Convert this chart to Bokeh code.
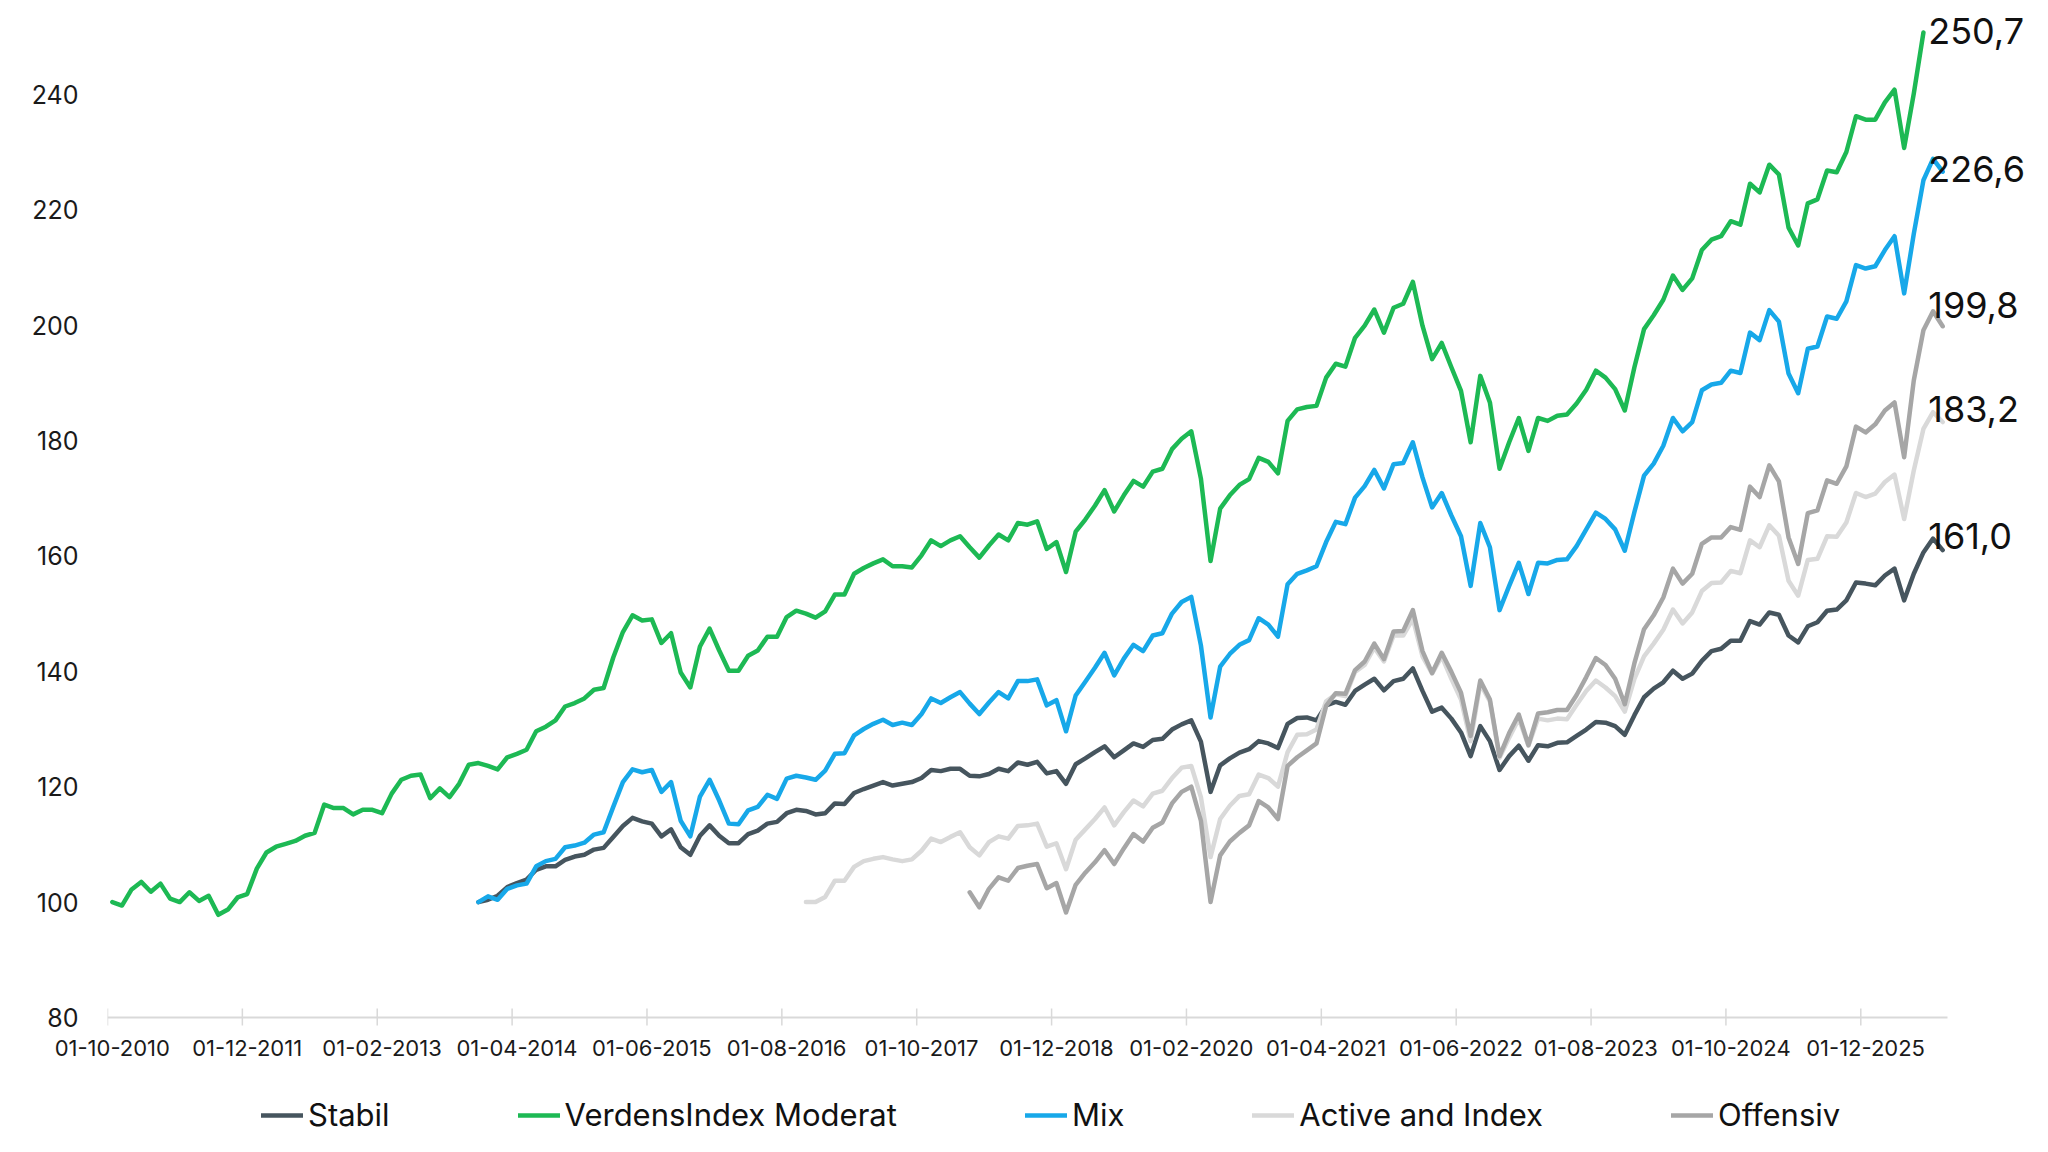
import pandas as pd
from bokeh.plotting import figure
from bokeh.layouts import column
from bokeh.models import Range1d, FixedTicker, Legend, LegendItem, Label
from bokeh.embed import file_html
from bokeh.resources import INLINE

# monthly categories of the chart, a tick label every 14 months
months = pd.date_range("2010-10-01", "2026-08-01", freq="MS")
tick_months = months[::14]

# index values, one per month from each series' start
verdensindex = [
    100.0, 99.4, 102.2, 103.5, 101.8, 103.2, 100.6, 100.0, 101.7, 100.2,
    101.1, 97.8, 98.7, 100.8, 101.4, 105.8, 108.6, 109.6, 110.1, 110.6,
    111.5, 112.0, 116.9, 116.3, 116.3, 115.2, 116.0, 116.0, 115.4, 118.8,
    121.2, 121.9, 122.1, 118.0,
    119.7, 118.2, 120.5, 123.8, 124.1, 123.6, 123.0, 125.1, 125.7, 126.4,
    129.6, 130.4, 131.5, 133.9, 134.5, 135.3, 136.8, 137.1, 142.4, 146.8,
    149.7, 148.8, 149.0, 144.9, 146.6, 139.8, 137.2, 144.3, 147.4, 143.6,
    140.1,
    140.1, 142.7, 143.6, 146.0, 146.0, 149.4, 150.5, 150.0, 149.3, 150.4,
    153.3, 153.3, 156.9, 157.9, 158.7, 159.4, 158.2, 158.2, 158.0, 160.1,
    162.7, 161.7, 162.7, 163.4, 161.5, 159.7, 161.8, 163.7, 162.7, 165.7,
    165.4,
    166.0, 161.2, 162.4, 157.2, 164.2, 166.3, 168.7, 171.4, 167.7, 170.5,
    173.0, 172.0, 174.6, 175.1, 178.5, 180.3, 181.6, 173.4, 159.1, 168.2,
    170.5, 172.3, 173.3, 177.0, 176.3, 174.3, 183.4, 185.4, 185.8, 186.0,
    190.9, 193.3, 192.8, 197.8, 199.9, 202.7, 198.7, 203.0, 203.7, 207.5,
    199.9, 194.1, 196.9, 192.7, 188.6, 179.7, 191.2, 186.6, 175.1, 179.7,
    183.9, 178.2, 183.9, 183.4, 184.3, 184.5, 186.4, 188.8, 192.1, 190.9,
    188.9, 185.2, 192.7, 199.3,
    201.7, 204.4, 208.6, 206.1, 208.1, 213.0, 214.8, 215.4, 218.0, 217.4,
    224.5, 223.0, 227.8, 226.1, 216.9, 213.8, 221.1, 221.8, 226.8, 226.5,
    230.0, 236.2, 235.6, 235.6, 238.6, 240.8, 230.7, 240.1, 250.7,
]

mix = [
    100.0, 101.0, 100.4, 102.3, 102.9, 103.2, 106.2, 107.1, 107.5, 109.5,
    109.8, 110.3, 111.7, 112.1, 116.5, 120.8, 123.0, 122.5, 122.9, 119.1,
    120.8, 114.1, 111.4, 118.3, 121.2, 117.6, 113.6,
    113.5, 115.9, 116.5, 118.6, 117.9, 121.4, 121.9, 121.6, 121.2, 122.8,
    125.7, 125.8, 128.9, 130.0, 130.9, 131.6, 130.7, 131.1, 130.7, 132.6,
    135.3, 134.5, 135.5, 136.4, 134.4, 132.6, 134.6, 136.4, 135.3, 138.3,
    138.3,
    138.6, 134.1, 135.0, 129.6, 135.8, 138.2, 140.6, 143.2, 139.3, 142.2,
    144.6, 143.5, 146.2, 146.6, 150.0, 152.0, 152.9, 144.5, 132.0, 140.8,
    143.0, 144.6, 145.4, 149.2, 148.1, 146.0, 155.1, 156.9, 157.5, 158.2,
    162.4, 165.9,
    165.5, 170.1, 172.1, 174.9, 171.7, 175.9, 176.1, 179.7, 173.6, 168.4,
    170.9, 167.0, 163.4, 154.8, 165.7, 161.5, 150.6, 154.8, 158.8, 153.4,
    158.8, 158.7, 159.3, 159.4, 161.7, 164.6, 167.5, 166.4, 164.6, 160.9,
    167.6, 173.9,
    176.0, 179.1, 183.9, 181.6, 183.2, 188.7, 189.7, 190.0, 192.1, 191.7,
    198.7, 197.4, 202.6, 200.6, 191.6, 188.2, 195.9, 196.3, 201.5, 201.1,
    204.1, 210.4, 209.8, 210.2, 213.0, 215.4, 205.5, 215.8, 225.1, 228.8,
    226.6,
]

stabil = [
    100.0, 100.4, 101.1, 102.6, 103.3, 103.9, 105.6, 106.2, 106.2, 107.3,
    107.9, 108.2, 109.1, 109.4, 111.3, 113.2, 114.6, 114.0, 113.6, 111.4,
    112.6, 109.5, 108.2, 111.5, 113.3, 111.5, 110.2,
    110.2, 111.8, 112.4, 113.6, 113.9, 115.4, 116.0, 115.8, 115.2, 115.4,
    117.1, 117.0, 118.9, 119.6, 120.2, 120.8, 120.2, 120.5, 120.8, 121.5,
    122.9, 122.7, 123.1, 123.1, 121.9, 121.8, 122.2, 123.1, 122.7, 124.2,
    123.8,
    124.3, 122.3, 122.7, 120.5, 123.9, 124.9, 126.0, 127.0, 125.1, 126.3,
    127.5, 126.9, 128.1, 128.3, 129.9, 130.8, 131.5, 127.8, 119.1, 123.7,
    124.9, 125.9, 126.5, 127.9, 127.5, 126.7, 130.9, 131.9, 132.0, 131.5,
    134.1, 134.7,
    134.2, 136.6, 137.7, 138.7, 136.7, 138.3, 138.7, 140.5, 136.6, 133.0,
    133.7, 131.8, 129.4, 125.3, 130.5, 127.9, 122.9, 125.3, 127.1, 124.5,
    127.2, 127.0, 127.6, 127.7, 128.8, 129.9, 131.2, 131.1, 130.5, 129.0,
    132.4, 135.5,
    137.0, 138.1, 140.1, 138.7, 139.6, 141.8, 143.5, 143.9, 145.3, 145.3,
    148.7, 148.1, 150.2, 149.8, 146.2, 145.0, 147.8, 148.5, 150.5, 150.7,
    152.3, 155.4, 155.2, 154.9, 156.6, 157.8, 152.3, 156.9, 160.6, 163.0,
    161.0,
]

active_index = [
    100.0, 100.0, 100.9, 103.7, 103.7, 106.1, 107.1, 107.5, 107.8, 107.4,
    107.1, 107.4, 108.9, 111.0, 110.4, 111.3, 112.1, 109.5, 108.1, 110.4,
    111.4, 111.0, 113.2, 113.3,
    113.6, 109.6, 110.2, 105.7, 110.8, 112.6, 114.4, 116.4, 113.3, 115.6,
    117.6, 116.6, 118.8, 119.3, 121.5, 123.3, 123.6, 118.2, 107.8, 114.4,
    116.7, 118.4, 118.7, 122.1, 121.5, 120.0, 126.0, 129.0, 129.1, 129.9,
    134.8, 136.0,
    135.7, 139.9, 141.1, 144.1, 141.7, 146.2, 146.2, 149.1, 142.6, 139.6,
    142.6, 138.7, 135.1, 127.9, 137.8, 134.8, 125.0, 128.5, 131.8, 127.1,
    131.8, 131.5, 131.8, 131.7, 134.2, 136.6, 138.4, 137.2, 135.7, 133.0,
    138.7, 142.6,
    144.8, 147.2, 150.7, 148.3, 150.2, 153.9, 155.3, 155.4, 157.4, 157.0,
    162.7, 161.5, 165.3, 163.5, 155.7, 153.1, 159.3, 159.5, 163.4, 163.3,
    165.8, 170.9, 170.2, 170.8, 172.8, 174.1, 166.4, 174.8, 182.0, 184.9,
    183.2,
]

offensiv = [
    101.7, 99.1, 102.3, 104.3, 103.7, 105.9, 106.3,
    106.6, 102.4, 103.3, 98.2, 103.0, 105.1, 106.9, 109.0, 106.6, 109.3,
    111.8, 110.5, 112.9, 113.8, 117.1, 119.1, 120.0, 114.1, 100.0, 108.1,
    110.5, 112.0, 113.3, 117.5, 116.4, 114.4, 123.6, 125.1, 126.3, 127.5,
    134.0, 136.2,
    136.1, 140.2, 141.7, 144.8, 142.1, 146.9, 147.0, 150.6, 143.5, 139.7,
    143.2, 139.9, 136.3, 128.8, 138.4, 135.1, 125.3, 129.3, 132.5, 127.2,
    132.7, 132.9, 133.3, 133.3, 135.9, 139.0, 142.3, 141.1, 138.7, 134.3,
    141.4, 147.3,
    149.7, 152.8, 157.8, 155.2, 156.9, 162.1, 163.2, 163.2, 165.0, 164.5,
    172.0, 170.2, 175.7, 172.9, 163.2, 158.6, 167.4, 167.9, 173.1, 172.5,
    175.5, 182.4, 181.4, 182.8, 185.2, 186.6, 177.1, 190.4, 199.1, 202.4,
    199.8,
]

series_names = ["Stabil", "VerdensIndex Moderat", "Mix", "Active and Index", "Offensiv"]
series_values = [stabil, verdensindex, mix, active_index, offensiv]
series_start = ["2013-12-01", "2010-10-01", "2013-12-01", "2016-10-01", "2018-03-01"]

colors = ["#46555e", "#1db954", "#17a8e9", "#d9d9d9", "#a6a6a6"]
label_lift = [14, 2, 3, 13, 21]   # px, end labels sit a little above the last point

FONT = "Inter"
W, H = 2048, 1152
n = len(months)
px_per_month = 1840 / n          # width of the dated part of the chart
px_per_unit = 5.77               # vertical scale, px per index point
below_base = 10                  # px of frame kept under the 80 baseline for the ticks

# chart; the frame runs on to the right edge so the end labels are not cut off
left, right, bottom = 107, 14, 44
frame_w = W - left - right
frame_h = 1017 + below_base
y0 = 80 - below_base / px_per_unit
p = figure(width=W, height=frame_h + bottom,
           x_range=Range1d(-0.5, -0.5 + frame_w / px_per_month),
           y_range=Range1d(y0, y0 + frame_h / px_per_unit),
           output_backend="svg", toolbar_location=None,
           min_border_left=left, min_border_right=right,
           min_border_top=0, min_border_bottom=bottom)
p.outline_line_color = None
p.grid.visible = False
p.background_fill_color = "white"
p.border_fill_color = "white"

# x axis: light baseline under the dated part, ticks between the months,
# date labels centred on the month every 14 months
tick_pos = [int(months.get_loc(d)) for d in tick_months]
p.segment(x0=-0.5, y0=80, x1=n - 0.5, y1=80, line_color="#d9d9d9", line_width=2)
p.segment(x0=[t - 0.5 for t in tick_pos], y0=80 - 8 / px_per_unit,
          x1=[t - 0.5 for t in tick_pos], y1=80 + 9 / px_per_unit,
          line_color="#d9d9d9", line_width=1.5)
p.xaxis.ticker = FixedTicker(ticks=tick_pos)
p.xaxis.major_label_overrides = {i: d.strftime("%d-%m-%Y") for i, d in zip(tick_pos, tick_months)}
p.xaxis.axis_line_color = None
p.xaxis.major_tick_line_color = None
p.xaxis.major_tick_in = 0
p.xaxis.major_tick_out = 0
p.xaxis.minor_tick_line_color = None
p.xaxis.major_label_text_font = FONT
p.xaxis.major_label_text_font_size = "22px"
p.xaxis.major_label_text_color = "#1a1a1a"
p.xaxis.major_label_standoff = 12

# y axis: labels only
p.yaxis.ticker = FixedTicker(ticks=list(range(80, 241, 20)))
p.yaxis.axis_line_color = None
p.yaxis.major_tick_line_color = None
p.yaxis.minor_tick_line_color = None
p.yaxis.major_tick_in = 0
p.yaxis.major_tick_out = 0
p.yaxis.major_label_text_font = FONT
p.yaxis.major_label_text_font_size = "25px"
p.yaxis.major_label_text_color = "#1a1a1a"
p.yaxis.major_label_standoff = 29

for name, vals, start, color in zip(series_names, series_values, series_start, colors):
    i0 = int(months.get_loc(pd.Timestamp(start)))
    p.line(list(range(i0, i0 + len(vals))), vals, line_color=color, line_width=4.5,
           line_join="round", line_cap="round")

# last value labels to the right of the lines
for vals, lift in zip(series_values, label_lift):
    p.add_layout(Label(x=n - 2.5, y=vals[-1], y_offset=lift,
                       text=f"{vals[-1]:.1f}".replace(".", ","),
                       text_font=FONT, text_font_size="36px",
                       text_color="#111111", text_baseline="middle",
                       text_align="left"))

# legend strip under the chart (same series, kept out of view, feed the legend)
q = figure(width=W, height=H - p.height, x_range=(0, 1), y_range=(0, 1),
           x_axis_type=None, y_axis_type=None,
           output_backend="svg", toolbar_location=None,
           min_border_left=0, min_border_right=0,
           min_border_top=0, min_border_bottom=0)
q.outline_line_color = None
q.grid.visible = False
q.border_fill_color = "white"

items = []
for name, vals, start, color in zip(series_names, series_values, series_start, colors):
    i0 = int(months.get_loc(pd.Timestamp(start)))
    r = q.line(list(range(i0, i0 + len(vals))), vals, line_color=color,
               line_width=4.5, line_cap="round")
    items.append(LegendItem(label=name, renderers=[r]))

legend = Legend(items=items, orientation="horizontal", location=(154, 19))
legend.label_text_font = FONT
legend.label_text_font_size = "31px"
legend.label_text_color = "#111111"
legend.glyph_width = 42
legend.glyph_height = 30
legend.label_height = 30
legend.label_standoff = 5
legend.spacing = 128
legend.padding = 0
legend.margin = 0
legend.border_line_color = None
legend.background_fill_alpha = 0
q.add_layout(legend)

open("out.html", "w").write(file_html(column(p, q), INLINE))
